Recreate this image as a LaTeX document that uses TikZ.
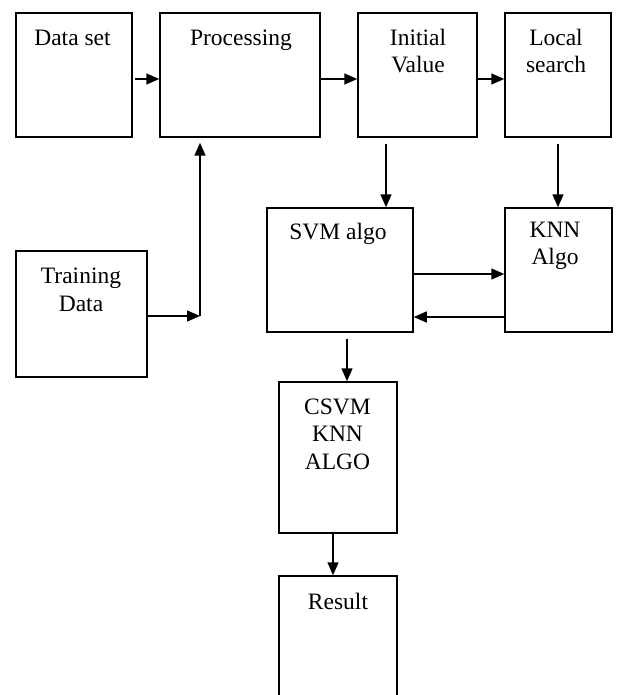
\documentclass[tikz,border=0pt]{standalone}
\usepackage{fontspec}
\setmainfont{Liberation Serif}
\usetikzlibrary{arrows.meta,calc}
\begin{document}
\begin{tikzpicture}[x=1pt,y=-1pt,
  box/.style={draw,line width=1.5pt,inner sep=0pt},
  txt/.style={font=\fontsize{23.5}{27.5}\selectfont,align=center,inner sep=0pt},
  arr/.style={line width=1.5pt,-{Triangle[length=13pt,width=11pt]}},
  ln/.style={line width=1.5pt}]
\useasboundingbox (0,0) rectangle (617,695);
\clip (0,0) rectangle (617,695);
% boxes
\node[box,minimum width=116pt,minimum height=124pt] (ds) at (74,75) {};
\node[txt] (dsT) at (72.5,38) {Data set};
\node[box,minimum width=160pt,minimum height=124pt] (proc) at (240,75) {};
\node[txt] (procT) at (241,40) {Processing};
\node[box,minimum width=119pt,minimum height=124pt] (init) at (417.5,75) {};
\node[txt] (initT) at (418,51) {Initial\\Value};
\node[box,minimum width=106pt,minimum height=124pt] (loc) at (558,75) {};
\node[txt] (locT) at (556,51) {Local\\search};
\node[box,minimum width=146pt,minimum height=124pt] (svm) at (340,270) {};
\node[txt] (svmT) at (338,234) {SVM algo};
\node[box,minimum width=107pt,minimum height=124pt] (knn) at (558.5,270) {};
\node[txt] (knnT) at (555,246) {KNN\\Algo};
\node[box,minimum width=131pt,minimum height=126pt] (train) at (81.5,314) {};
\node[txt] (trainT) at (81,290) {Training\\Data};
\node[box,minimum width=118pt,minimum height=151pt] (csvm) at (338,457.5) {};
\node[txt] (csvmT) at (337.5,434) {CSVM\\KNN\\ALGO};
\node[box,minimum width=118pt,minimum height=130pt] (res) at (338,641) {};
\node[txt] (resT) at (338,601) {Result};
% connectors
\draw[arr] ([xshift=2pt,yshift=-4pt]ds.east) -- ([yshift=-4pt]proc.west);
\draw[arr] ([yshift=-4pt]proc.east) -- ([yshift=-4pt]init.west);
\draw[arr] ([yshift=-4pt]init.east) -- ([yshift=-4pt]loc.west);
\draw[arr] ([xshift=-31.5pt,yshift=-6pt]init.south) -- ([xshift=-31.5pt]init.south |- svm.north);
\draw[arr] ([yshift=-6pt]loc.south) -- (loc.south |- knn.north);
\draw[arr] ([yshift=-4pt]svm.east) -- ([yshift=-4pt]svm.east -| knn.west);
\draw[arr] ([yshift=-47pt]knn.west) -- ([yshift=-47pt]knn.west -| svm.east);
\coordinate (tc) at (200,316);
\draw[arr] (train.east |- tc) -- (tc);
\draw[arr] (tc) -- ([yshift=-5pt]proc.south -| tc);
\draw[arr] ([xshift=7pt,yshift=-6pt]svm.south) -- ([xshift=7pt]svm.south |- csvm.north);
\draw[arr] ([xshift=-5pt]csvm.south) -- ([xshift=-5pt]csvm.south |- res.north);
\end{tikzpicture}
\end{document}
